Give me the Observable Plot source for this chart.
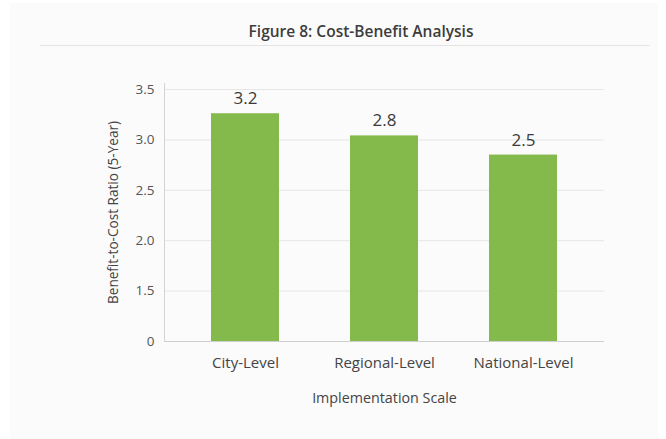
<!DOCTYPE html>
<html>
<head>
<meta charset="utf-8">
<script src="https://cdn.jsdelivr.net/npm/d3@7"></script>
<script src="https://cdn.jsdelivr.net/npm/@observablehq/plot@0.6"></script>
<style>
  html, body { margin: 0; padding: 0; background: #ffffff; }
  body { width: 666px; height: 439px; position: relative; overflow: hidden; font-family: "Open Sans", sans-serif; }
  #panel { position: absolute; left: 10px; top: 3px; right: 8px; bottom: 0; background: #fbfbfc; }
  #title { position: absolute; left: 0; width: 722px; top: 20px; text-align: center; font-size: 15.5px; font-weight: 600; color: #3d3d3d; }
  #sep { position: absolute; left: 40px; width: 610px; top: 45px; height: 1px; background: #e4e4e4; }
  #chart { position: absolute; left: 0; top: 0; }
</style>
</head>
<body>
<div id="panel"></div>
<div id="title">Figure 8: Cost-Benefit Analysis</div>
<div id="sep"></div>
<div id="chart"></div>
<script>
const categories = ["City-Level", "Regional-Level", "National-Level"];
const barValues = [3.26, 3.04, 2.85];
const valueLabels = ["3.2", "2.8", "2.5"];
const yTickValues = [1, 1.5, 2, 2.5, 3, 3.5];
const yTickLabels = ["0", "1.5", "2.0", "2.5", "3.0", "3.5"];
const xTitle = "Implementation Scale";
const yTitle = "Benefit-to-Cost Ratio (5-Year)";

const data = categories.map((c, i) => ({cat: c, value: barValues[i], label: valueLabels[i]}));

const chart = Plot.plot({
  width: 666,
  height: 439,
  marginLeft: 164,
  marginRight: 62,
  marginTop: 83,
  marginBottom: 98,
  style: {background: "transparent", fontFamily: "Open Sans, sans-serif", color: "#444"},
  x: {domain: categories, paddingInner: 0.51, paddingOuter: 0.33, label: null},
  y: {domain: [1, 3.56], label: null},
  marks: [
    Plot.gridY(yTickValues.slice(1), {stroke: "#e6e6e6", strokeOpacity: 1}),
    Plot.barY(data, {x: "cat", y1: 1, y2: "value", fill: "#84b94b"}),
    Plot.ruleY([1], {stroke: "#cfcfcf"}),
    Plot.frame({anchor: "left", stroke: "#d4d4d4"}),
    Plot.axisY({ticks: yTickValues, tickSize: 0, tickPadding: 10, fontSize: 13.5, fill: "#555",
      tickFormat: d => yTickLabels[yTickValues.indexOf(d)], label: null}),
    Plot.axisX({tickSize: 0, tickPadding: 16, fontSize: 15, fill: "#444", label: null}),
    Plot.text(data, {x: "cat", y: "value", text: "label", dy: -15, fontSize: 17, fill: "#3a3a3a"}),
    Plot.text([xTitle], {frameAnchor: "bottom", dy: 61, fontSize: 14.3, fill: "#444"}),
    Plot.text([yTitle], {frameAnchor: "left", textAnchor: "middle", dx: -51, rotate: -90, fontSize: 13.6, fill: "#444", dy: 0})
  ]
});
document.getElementById("chart").appendChild(chart);
</script>
</body>
</html>
